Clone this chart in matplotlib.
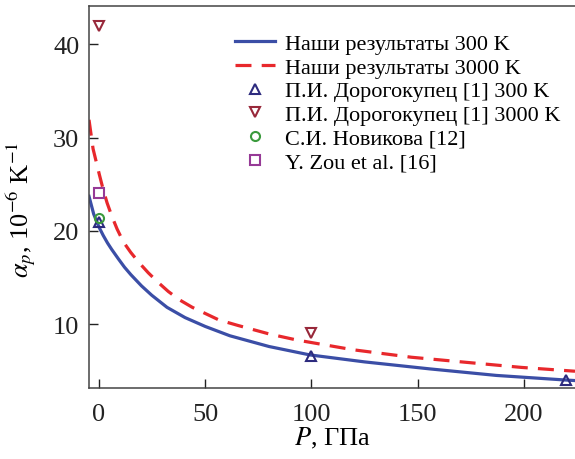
import matplotlib
matplotlib.use("Agg")
import matplotlib.pyplot as plt

plt.rcParams['font.family'] = ['Liberation Serif', 'DejaVu Serif']
plt.rcParams['mathtext.fontset'] = 'stix'

# Curves
p_300 = [-4.7, -2.5, 0, 2, 4, 6, 9.1, 12, 15, 20, 24.8, 32, 40.5, 50, 61.6, 80, 99.2, 125, 155.7, 187, 220, 224]
a_300 = [23.7, 21.8, 20.4, 19.5, 18.7, 18.0, 17.0, 16.1, 15.3, 14.1, 13.1, 11.8, 10.7, 9.75, 8.75, 7.6, 6.7, 5.95, 5.2, 4.5, 4.0, 3.95]
p_3000 = [-4.7, -2.8, -1.2, 0.2, 2, 3.8, 6, 8.5, 11.5, 14.9, 18.8, 23.2, 27.7, 32.6, 37.9, 43.9, 56.4, 65.5, 80, 93, 119.6, 147, 173, 198.8, 224]
a_3000 = [31.9, 28.8, 27.3, 26.0, 24.4, 23.0, 21.6, 20.2, 18.8, 17.7, 16.6, 15.5, 14.5, 13.5, 12.6, 11.8, 10.45, 9.85, 8.95, 8.3, 7.25, 6.45, 5.9, 5.36, 4.95]

# Reference points
dor300_p = [0, 100, 220]
dor300_a = [20.9, 6.6, 4.0]
dor3000_p = [0, 100]
dor3000_a = [42.0, 9.0]
nov_p = [0]
nov_a = [21.4]
zou_p = [0]
zou_a = [24.05]

labels = ["Наши результаты 300 K", "Наши результаты 3000 K",
          "П.И. Дорогокупец [1] 300 K", "П.И. Дорогокупец [1] 3000 K",
          "С.И. Новикова [12]", "Y. Zou et al. [16]"]
xticks = [0, 50, 100, 150, 200]
yticks = [10, 20, 30, 40]

fig = plt.figure(figsize=(5.75, 4.6), dpi=100)
ax = fig.add_axes([0.1548, 0.1543, 0.8452, 0.8305])

ax.plot(p_300, a_300, color='#3b4ea6', lw=2.3, label=labels[0])
ax.plot(p_3000, a_3000, color='#e8282c', lw=2.3, dashes=(5, 3.2), label=labels[1])
ms = 7.5
ax.plot(dor300_p, dor300_a, ls='none', marker='^', ms=ms, mfc='none', mec='#2d2b7e', mew=1.5, label=labels[2])
ax.plot(dor3000_p, dor3000_a, ls='none', marker='v', ms=ms, mfc='none', mec='#98283a', mew=1.5, label=labels[3])
ax.plot(nov_p, nov_a, ls='none', marker='o', ms=6.5, mfc='none', mec='#3a9a3c', mew=1.5, label=labels[4])
ax.plot(zou_p, zou_a, ls='none', marker='s', ms=6.5, mfc='none', mec='#963a96', mew=1.5, label=labels[5])

ax.set_xlim(-4.7, 224)
ax.set_ylim(3.15, 44.1)
ax.set_xticks(xticks)
ax.set_yticks(yticks)
ax.tick_params(direction='in', length=6.5, width=1, labelsize=19, colors='#222222', pad=7)
ax.tick_params(axis='x', pad=11)
for s in ['left', 'bottom', 'top']:
    ax.spines[s].set_color('#444444')
    ax.spines[s].set_linewidth(1.1)
ax.spines['right'].set_visible(False)

ax.set_xlabel(r'$P$, ГПа', fontsize=19, labelpad=0)
ax.set_ylabel(r'$\alpha_p$, 10$^{-6}$ K$^{-1}$', fontsize=19, labelpad=6)
ax.yaxis.set_label_coords(-0.105, 0.47)

leg = ax.legend(loc='upper left', bbox_to_anchor=(0.408, 0.925), bbox_transform=fig.transFigure,
                frameon=False, fontsize=16, labelspacing=0.14, handlelength=1.8,
                handletextpad=0.45, borderaxespad=0, borderpad=0)

fig.savefig('out.png', dpi=100)
